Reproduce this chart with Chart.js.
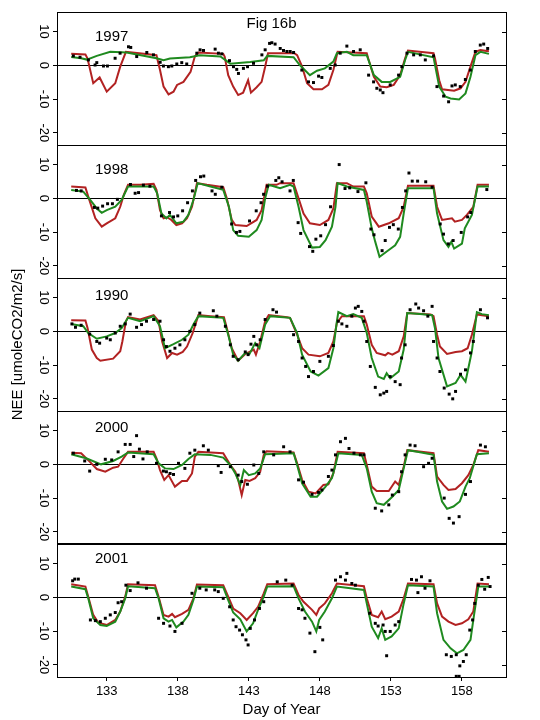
<!DOCTYPE html>
<html>
<head>
<meta charset="utf-8">
<script src="https://cdn.jsdelivr.net/npm/chart.js@4.4.0/dist/chart.umd.min.js"></script>
<style>
  html, body { margin: 0; padding: 0; background: #fff; }
  #wrap { width: 540px; height: 720px; position: relative; }
</style>
</head>
<body>
<div id="wrap"><canvas id="nee" width="540" height="720"></canvas></div>
<script>
// panel names, top to bottom
const YEARS = ['1997', '1998', '1990', '2000', '2001'];
const X_TICKS = [133, 138, 143, 148, 153, 158];
const Y_TICKS = [-20, -10, 0, 10];

// [day, NEE]
const red1997 = [[130.5,3.4],[131.5,3.2],[131.65,2],[132.05,-5.3],[132.5,-3.6],[133,-7.8],[133.6,-5.3],[133.95,-0.4],[134.35,4],[135.3,3.6],[136.5,3],[136.75,-1.4],[137,-6.3],[137.35,-8.6],[137.7,-7.8],[137.95,-5.8],[138.4,-4.9],[138.9,-1.9],[139.2,2.6],[139.45,3.8],[141.2,3.4],[141.3,2.6],[141.55,-2.9],[141.9,-6.3],[142.25,-8.8],[142.6,-8.1],[142.95,-4.4],[143.15,-8.1],[143.55,-6.5],[143.9,-4.9],[144.15,-0.4],[144.35,3.6],[146.2,3.6],[146.4,3],[146.75,-0.4],[147.1,-5.3],[147.55,-7.1],[148.15,-7.1],[148.6,-5.8],[148.95,-1.4],[149.25,4],[151.3,3.6],[151.4,2.1],[151.8,-3.4],[152.25,-6.3],[152.7,-6.5],[153.2,-5.8],[153.65,-2.9],[154,2.1],[154.2,4.4],[156,3.6],[156.1,2.1],[156.4,-4.4],[156.6,-7.1],[157.45,-7.5],[157.9,-6.8],[158.25,-4.9],[158.6,-0.4],[158.95,4],[159.3,4.5],[159.9,4.2]];
const green1997 = [[130.5,2.5],[131.2,2.1],[131.6,1.7],[132.3,2.8],[133.25,4],[134.4,3.8],[136.5,2.1],[137,1.5],[137.45,2],[138.85,2.4],[139.55,3],[141,2.6],[141.7,0.5],[143.1,1],[144.05,1.5],[144.3,2.8],[146.15,2.4],[146.6,0],[147.3,-2.9],[147.8,-1.6],[148.35,-0.9],[148.95,1.1],[149.2,3.6],[149.9,4],[150.35,3],[151.3,3],[151.8,-2.9],[152.35,-4.9],[152.95,-4.9],[153.65,-3.4],[154,1.6],[154.2,4],[156,2.4],[156.4,-6.3],[156.85,-9.3],[157.2,-9.8],[157.8,-10.1],[158.25,-8.3],[158.6,-3.4],[158.95,3],[159.3,4],[159.9,3.4]];
const obs1997 = [[130.65,2.8],[131.12,2.4],[131.71,1.6],[132.18,0.1],[132.3,0.8],[132.77,-0.2],[133.05,-0.2],[133.59,2.1],[133.94,3.6],[134.53,5.5],[134.69,5.3],[135.11,2.6],[135.82,3.8],[136.29,3.1],[136.76,0.9],[136.99,-0.2],[137.34,-0.4],[137.58,-0.2],[137.93,0.4],[138.28,0.8],[138.63,0.4],[139.34,3.6],[139.57,4.6],[139.81,4.4],[140.63,4.8],[140.86,3.6],[141.1,3.4],[141.64,1.4],[141.92,-0.4],[142.15,-1.2],[142.27,-2.4],[142.62,-0.9],[142.91,-0.4],[143.33,0.6],[143.92,3.1],[144.15,4.6],[144.46,6.5],[144.62,6.7],[144.85,6.3],[145.21,5],[145.44,4.4],[145.68,4.1],[145.91,4.1],[146.15,3.8],[146.73,-1.4],[147.2,-4.9],[147.55,-5.1],[147.91,-3.2],[148.14,-3.6],[148.73,-0.9],[149.08,0.1],[149.43,3.6],[149.9,5.7],[150.37,4.1],[150.84,4.6],[151.43,-2.9],[151.78,-4.9],[152.01,-6.8],[152.25,-7.3],[152.44,-8.1],[152.95,-5.8],[153.54,-2.9],[153.77,-0.4],[154.13,3.6],[154.6,3.1],[155.07,3.1],[155.42,1.6],[156,2.8],[156.24,-6.3],[156.71,-9.1],[157.06,-10.8],[157.3,-6.1],[157.53,-5.8],[157.88,-6.3],[158.24,-4.2],[158.59,-1.4],[158.94,4.1],[159.29,6],[159.53,6.3],[159.81,5]];

const red1998 = [[130.5,3.5],[131.5,3.2],[131.7,0.5],[132.2,-5.9],[132.65,-8.4],[133,-7.4],[133.6,-5.9],[133.95,-2.5],[134.2,1],[134.5,4],[135.35,4],[136.3,4.3],[136.5,2.5],[136.75,-3.5],[137,-5.9],[137.25,-5.6],[137.55,-6.4],[137.9,-7.9],[138.3,-7.4],[138.65,-5.9],[139,-2.5],[139.35,4.5],[140.05,4],[141.2,3.3],[141.45,0],[141.8,-6.4],[142.05,-7.9],[142.85,-8.2],[143.55,-6.4],[143.9,-3.5],[144.25,4],[144.95,4],[145.2,4.5],[146.15,4.5],[146.5,0],[146.85,-4.5],[147.3,-7.4],[148,-7.9],[148.6,-6.4],[148.95,-3],[149.2,4.5],[149.9,4.5],[150.35,3.5],[151.1,3.5],[151.3,1.5],[151.65,-5.4],[152.15,-8.4],[152.85,-7.4],[153.55,-5.9],[153.9,-2.5],[154.2,3.7],[156,3.7],[156.25,-2.5],[156.6,-6.4],[157.3,-5.9],[157.5,-6.9],[158,-6.4],[158.35,-4.9],[158.8,-2.5],[159.1,4],[159.9,4]];
const green1998 = [[130.5,2.5],[131.35,2],[131.85,-0.5],[132.3,-3],[132.65,-4.3],[133,-3.5],[133.6,-2.5],[134.05,-0.5],[134.5,3.5],[136.3,3.5],[136.55,1.5],[136.85,-4.5],[137.2,-5.9],[137.45,-4.9],[137.9,-7.4],[138.4,-6.9],[138.75,-4.9],[139.1,-0.5],[139.4,4.5],[140.3,3.5],[141.2,2.5],[141.6,-2.5],[141.9,-9.4],[142.25,-11.1],[143,-11.4],[143.55,-9.4],[143.9,-6.4],[144.15,0],[144.4,4],[145.2,3],[145.9,4],[146.15,3.5],[146.5,-2.5],[146.85,-9.4],[147.45,-14.6],[148,-14.4],[148.4,-12.4],[148.85,-8.4],[149.1,-2.5],[149.25,4.5],[149.9,3.5],[151.1,2.5],[151.3,-1],[151.65,-8.9],[151.9,-12.9],[152.2,-17.3],[152.85,-15.3],[153.3,-13.9],[153.65,-11.4],[153.9,-4.5],[154.2,3],[156,3],[156.25,-4.5],[156.7,-12.4],[157.05,-14.4],[157.25,-12.9],[157.45,-14.9],[158,-13.4],[158.2,-8.9],[158.7,-4.9],[159.1,3.5],[159.9,3.5]];
const obs1998 = [[130.87,2.35],[131.2,2.2],[132.13,-2.7],[132.37,-2.9],[132.71,-2.3],[133.06,-1.6],[133.4,-1.6],[133.75,-0.3],[134.67,4.1],[135,1.5],[135.24,1.7],[135.58,3.9],[136.04,3.6],[136.85,-5.2],[137.42,-4.2],[137.7,-5.5],[138,-5.2],[138.34,-3.7],[138.69,-1.3],[139.03,2.2],[139.26,5.3],[139.6,6.4],[139.83,6.6],[140.41,2.2],[140.64,1.2],[141.1,3.3],[141.79,-7.6],[142.13,-10.1],[142.37,-9.8],[143.05,-6.7],[143.52,-3.7],[143.86,-1.3],[144.04,1.2],[144.31,3.6],[144.9,5.3],[145.11,6.1],[145.34,4.9],[145.9,2.2],[146.13,5.3],[146.47,-7.2],[146.65,-10.4],[147.27,-14.3],[147.5,-15.7],[147.72,-12.1],[148.06,-11.1],[148.4,-7.8],[148.75,-2.5],[149.36,10],[149.77,2.9],[150.1,3.1],[150.68,2],[151.24,4.6],[151.59,-9.1],[151.81,-10.8],[152.38,-15.5],[152.6,-12.5],[152.9,-8.6],[153.17,-7.8],[153.52,-9.1],[153.81,-2.7],[154.04,2.2],[154.27,7.5],[154.5,5.1],[154.88,5.1],[155.45,4.9],[155.9,3.3],[156.47,-7.6],[156.7,-10.6],[157.04,-13.5],[157.38,-12.5],[157.95,-10.1],[158.4,-5.5],[158.62,-4.2],[159.75,2.6]];

const red1990 = [[130.5,3.3],[131.5,3.2],[131.65,1],[131.95,-5.4],[132.3,-7.9],[132.55,-8.7],[133.45,-8.1],[133.95,-5.9],[134.1,-3],[134.35,3],[134.5,4.2],[135.35,3.5],[136.3,4.8],[136.65,3],[136.9,-3],[137.25,-7.9],[137.6,-6.4],[137.95,-6.9],[138.35,-6.1],[138.65,-4.5],[139.05,-0.5],[139.45,4.8],[140.3,4.5],[141.25,4.2],[141.45,1],[141.8,-5],[142.25,-8.7],[142.75,-6.7],[143.05,-6.1],[143.35,-5.4],[143.5,-6.9],[143.8,-3],[144.15,3],[144.4,4.8],[145.7,4.2],[145.9,4],[146.4,-1],[146.75,-5],[147.2,-6.9],[148,-7.4],[148.6,-6.4],[148.95,-3],[149.2,2.5],[149.55,4.5],[151.1,4.5],[151.3,2],[151.65,-4],[152,-6.4],[152.6,-7.1],[152.8,-6.4],[153.1,-6.9],[153.55,-5.9],[153.9,-1.5],[154.15,5.4],[155.8,5],[156,4.5],[156.25,-1],[156.45,-4.5],[156.95,-6.7],[157.55,-6.1],[158,-5.9],[158.4,-5],[158.7,-1],[159.05,5],[159.9,4.5]];
const green1990 = [[130.5,2.2],[131.35,1.5],[131.7,-0.5],[132.3,-2.2],[133,-1.5],[133.6,-0.5],[134.05,1],[134.5,4],[135.35,3],[136.3,4.5],[136.75,1.5],[137.1,-5],[137.7,-3.8],[138.3,-2.5],[138.75,-1],[139.1,2],[139.45,4.5],[141.2,4],[141.55,-1],[141.9,-6.9],[142.25,-8.7],[142.75,-6.4],[143.05,-6.7],[143.45,-3.5],[143.75,-5],[144.15,2],[144.5,4.5],[145.9,4],[146.4,-0.5],[146.75,-6.9],[147.35,-11.9],[147.9,-13.1],[148.6,-10.9],[148.95,-5],[149.2,3],[149.3,5.7],[149.9,4.5],[150.35,5.1],[150.95,4],[151.3,-0.5],[151.65,-7.9],[152.1,-13.4],[152.5,-14.1],[152.7,-12.4],[152.95,-13.9],[153.55,-11.9],[153.9,-5.4],[154.15,5.4],[155.05,5.1],[155.9,4.8],[156.1,1],[156.35,-7.9],[156.95,-16.3],[157.55,-15.3],[157.9,-12.9],[158.25,-14.9],[158.7,-5.9],[159.05,5.7],[159.4,5.1],[159.9,4.8]];
const obs1990 = [[130.55,2.2],[130.8,1.2],[131.2,1.8],[131.8,-0.8],[132.3,-3],[132.5,-3.5],[133,-2],[133.25,-2.5],[133.6,-0.5],[133.95,1.5],[134.3,2.2],[134.65,5.1],[135.1,1.2],[135.45,2],[135.8,3],[136.3,3.5],[136.75,3],[137,-2.5],[137.2,-4.5],[137.45,-5.9],[137.8,-5],[138.15,-4],[138.5,-2.5],[138.85,0],[139.2,2],[139.55,5.4],[140.5,6.1],[140.75,4.5],[141.35,1.5],[141.7,-4],[141.9,-7.4],[142.25,-8.4],[142.75,-6.1],[142.95,-6.9],[143.15,-3.8],[143.35,-1.5],[143.55,-4],[143.8,-2.5],[144.15,3.5],[144.7,6.4],[144.95,5.7],[146.15,-1],[146.5,-3],[146.75,-7.9],[147,-10.4],[147.2,-13.4],[147.55,-11.9],[148,-8.9],[148.6,-7.4],[148.95,-4.2],[149.3,3],[149.55,2.2],[149.9,1.5],[150.25,4.5],[150.5,6.9],[150.7,7.4],[150.95,5.9],[151.1,3],[151.3,-3],[151.55,-10.4],[151.9,-16.6],[152.25,-18.8],[152.5,-18.3],[152.7,-17.8],[152.95,-13.4],[153.3,-14.9],[153.65,-15.8],[153.75,-7.9],[154,-4],[154.35,6.4],[154.75,8.1],[154.95,6.9],[155.3,6.1],[155.6,4.5],[155.9,7.4],[156,-3],[156.25,-7.9],[156.45,-11.9],[156.75,-16.8],[157.1,-18.6],[157.35,-20],[157.55,-17.8],[157.9,-12.7],[158.25,-11.4],[158.6,-6.4],[158.8,-3],[159.3,6.4],[159.8,4]];

const red2000 = [[130.5,3.4],[131.2,3.3],[131.8,0.8],[132.3,-1.4],[132.9,-2.2],[133.45,-1],[133.8,-0.7],[134.15,1.6],[134.5,3.7],[136.3,3.7],[136.5,1.8],[136.75,-1.7],[137.05,-4.6],[137.35,-3.2],[137.8,-6.6],[138.3,-4.9],[138.65,-4.9],[139,-2.7],[139.2,2.3],[139.45,3.7],[141.2,3.3],[141.7,-0.2],[142.05,-2.2],[142.25,-4.6],[142.5,-9.1],[142.75,-4.6],[143.05,-4.9],[143.45,-4.1],[143.8,-2.2],[144.05,2.8],[144.25,3.9],[146.15,3.5],[146.4,0.3],[146.75,-4.6],[147.2,-8.1],[147.7,-8.6],[148.25,-6.1],[148.6,-5.9],[148.95,-2.7],[149.25,3.7],[151.1,3.3],[151.3,-0.2],[151.65,-6.6],[152,-7.9],[152.85,-7.9],[153.3,-5.1],[153.55,-6.1],[153.9,-0.7],[154.15,4.2],[156,3.3],[156.25,-3.6],[156.7,-6.1],[157.05,-7.6],[157.55,-7.3],[158,-5.6],[158.45,-3.2],[158.8,-0.2],[159.15,4.2],[159.9,3.7]];
const green2000 = [[130.5,3],[131.55,1.8],[132.6,0],[133.45,1],[134.05,2.3],[134.5,3.5],[136.3,3],[136.65,0.3],[137.1,-1.2],[137.7,-1.4],[138.3,-0.2],[138.75,1.6],[139.2,3],[140.3,2.8],[141.2,2],[141.7,-0.2],[142.05,-2.7],[142.4,-6.1],[142.65,-1.7],[143,-3.2],[143.45,-2.7],[143.8,-1.2],[144.15,3],[146.15,3.3],[146.4,-0.2],[146.75,-5.6],[147.35,-9.6],[147.8,-9.6],[148.4,-6.6],[148.85,-4.1],[149.1,-0.2],[149.3,3.3],[150.95,2.8],[151.3,-1.2],[151.65,-8.1],[152,-11.5],[152.5,-12],[153.1,-9.6],[153.55,-7.6],[153.9,-1.2],[154.2,4.2],[154.85,3.7],[156,2.8],[156.25,-5.1],[156.6,-11],[156.95,-13.2],[157.4,-12.5],[157.85,-11],[158.25,-6.6],[158.55,-4.1],[159.05,3],[159.9,3.3]];
const obs2000 = [[130.65,3.3],[131.45,1],[131.8,-2],[132.3,0],[132.9,1.5],[133.35,1.3],[133.8,3.7],[134.3,5.9],[134.65,5.9],[134.9,2.3],[135.1,8.5],[135.3,4.5],[135.55,1.6],[135.85,3.7],[136.5,0.3],[136.99,-2],[137.2,-2.2],[137.46,-2.7],[137.7,-3],[138.05,0.3],[138.5,-1.2],[138.85,3.3],[139.2,4.2],[139.8,5.5],[140.15,4.2],[140.85,-0.4],[141.05,-2.4],[141.7,-0.7],[142.25,-3.2],[142.5,-5.1],[142.9,-5.9],[143.35,-0.2],[143.7,-2.7],[144.05,3.7],[144.75,2.8],[145.45,5.2],[145.9,3.7],[146.5,-4.6],[146.85,-5.3],[147.45,-8.9],[147.9,-8.3],[148.14,-7.6],[148.6,-3.6],[148.85,-1.7],[149.1,2.8],[149.45,6.7],[149.8,7.7],[150.05,4.7],[150.4,3.3],[150.85,2.8],[151.1,2.8],[151.9,-13],[152.35,-13.8],[152.85,-12],[153.1,-9.1],[153.55,-8.1],[153.75,-2.2],[154,2.8],[154.35,5.7],[154.7,5.5],[155.3,-0.7],[155.65,0.3],[155.9,1.8],[156.75,-10],[157.1,-16],[157.4,-17.4],[157.8,-15.5],[158.25,-8.9],[158.6,-5.1],[159.3,5.7],[159.65,5.2]];

const red2001 = [[130.5,3.9],[131.5,3.2],[131.7,0.2],[132.05,-5.2],[132.4,-7.5],[133,-8.2],[133.6,-6.7],[133.95,-4.2],[134.3,0.2],[134.5,3.9],[136.4,3.6],[136.65,0.2],[137,-5.2],[137.35,-5.7],[137.6,-4.9],[137.8,-5.9],[138.3,-4.9],[138.75,-3.7],[139.1,-0.3],[139.35,3.8],[141.2,3.6],[141.55,0.2],[141.9,-3.3],[142.4,-4.7],[142.85,-6.7],[143.3,-4.7],[143.65,-2.8],[144.05,1.2],[144.3,3.9],[146.15,4.1],[146.5,0.7],[146.85,-1.3],[147.45,-3.7],[147.75,-5.2],[147.95,-3.3],[148.35,-1.8],[148.85,1.2],[149.2,4.1],[151.1,3.3],[151.3,-0.3],[151.65,-5.2],[152.1,-5.9],[152.35,-4.2],[152.6,-6.5],[153.05,-5.7],[153.55,-4.2],[153.9,-0.3],[154.2,4.1],[156,3.9],[156.25,-1.8],[156.6,-5.7],[157.05,-7.2],[157.55,-8.2],[158,-7.7],[158.45,-6.5],[158.8,-4.2],[159.1,4.1],[159.9,3.9]];
const green2001 = [[130.5,3.2],[131.5,2.4],[131.7,-0.3],[132.05,-6.2],[132.55,-8.2],[133,-8.5],[133.6,-7.2],[133.95,-4.2],[134.3,-0.3],[134.5,3.3],[136.4,2.7],[136.65,-0.3],[137,-6.2],[137.35,-7.2],[137.6,-6.7],[137.9,-8.9],[138.4,-7.2],[138.75,-5.2],[139.1,-0.8],[139.35,3.2],[141.2,3],[141.55,-0.8],[141.9,-4.5],[142.4,-6.5],[142.85,-10.1],[143.3,-7.7],[143.65,-3.7],[144.05,0.2],[144.3,3.2],[146.15,3.3],[146.5,-0.3],[146.95,-4.2],[147.45,-7.2],[147.75,-10.1],[147.95,-6.7],[148.35,-4.2],[148.85,-0.3],[149.2,3.2],[151.1,2.2],[151.3,-1.8],[151.65,-8.7],[152.1,-12.1],[152.35,-9.2],[152.6,-12.6],[153.05,-11.6],[153.55,-9.2],[153.9,-1.8],[154.2,3.6],[156,3.2],[156.25,-4.7],[156.7,-12.6],[157.2,-15.1],[157.65,-16.6],[158.1,-15.6],[158.6,-12.6],[158.8,-6.7],[159.15,3.2],[159.9,3.2]];
const obs2001 = [[130.6,4.9],[130.75,5.4],[131,5.4],[131.85,-6.7],[132.2,-6.9],[132.55,-7.2],[132.9,-6.2],[133.25,-5.2],[133.6,-4.5],[133.8,-1.6],[134.05,-1.3],[134.35,3.6],[134.65,2],[135.2,4.3],[135.8,2.7],[136.65,-6.2],[137,-7.7],[137.45,-8.5],[137.8,-10.1],[138.3,-7.7],[139,1.2],[139.55,2.7],[140,2.2],[140.6,2.2],[140.85,1.7],[141.2,-0.3],[141.65,-2.8],[141.9,-6.7],[142.1,-8.7],[142.35,-9.7],[142.55,-11.1],[142.8,-12.6],[142.95,-14.1],[143.1,-9.2],[143.4,-6.7],[143.75,-3.3],[144.05,-1.3],[145,4.6],[145.6,5.1],[146.05,3.6],[146.5,-3.3],[146.75,-3.7],[146.95,-6.2],[147.3,-10.6],[147.65,-16.1],[148,-8.9],[148.2,-12.6],[149.1,5.1],[149.45,6.1],[149.8,5.1],[149.9,7.1],[150.25,4.1],[150.5,3.6],[151.5,-4.7],[151.9,-7.7],[152.1,-8.5],[152.45,-8.2],[152.6,-10.1],[152.7,-17.3],[152.95,-10.1],[153.3,-8.2],[153.55,-7.2],[154.45,5.3],[154.8,5.1],[154.9,1.4],[155.15,6.1],[155.4,2.7],[155.75,4.9],[156.9,-17],[157.25,-17.5],[157.6,-17],[157.85,-20.3],[158.1,-19],[158.3,-17],[158.55,-9.7],[158.75,-6.7],[158.9,-1.8],[159.15,3.6],[159.4,5.3],[159.6,2.4],[159.85,5.9],[159.98,3.2],[157.6,-23.4],[157.8,-23.4]];

const REDS = [red1997, red1998, red1990, red2000, red2001];
const GREENS = [green1997, green1998, green1990, green2000, green2001];
const OBS = [obs1997, obs1998, obs1990, obs2000, obs2001];

const FONT = '"Liberation Sans", Arial, sans-serif';
const RED = '#b22222';
const GREEN = '#1f8a1f';
// distance of the year label below each panel top
const LABEL_DY = [25, 25, 17.5, 16.5, 14.5];

const toXY = arr => arr.map(p => ({ x: p[0], y: p[1] }));

const datasets = [];
YEARS.forEach((yr, i) => {
    const yID = 'y' + i;
    datasets.push({ label: 'obs ' + yr, data: toXY(OBS[i]), yAxisID: yID, order: 0,
        showLine: false, pointStyle: 'rect', pointRadius: 2.1, pointBackgroundColor: '#000', pointBorderWidth: 0 });
    datasets.push({ label: 'green ' + yr, data: toXY(GREENS[i]), yAxisID: yID, order: 1,
        borderColor: GREEN, borderWidth: 2, pointRadius: 0, tension: 0, fill: false });
    datasets.push({ label: 'red ' + yr, data: toXY(REDS[i]), yAxisID: yID, order: 2,
        borderColor: RED, borderWidth: 2, pointRadius: 0, tension: 0, fill: false });
});

const scales = {
    x: {
        type: 'linear', position: 'bottom', min: 129.5, max: 161.1,
        afterBuildTicks: s => { s.ticks = X_TICKS.map(v => ({ value: v })); },
        afterFit: s => { s.height = 43; },
        grid: { drawOnChartArea: false, color: '#000', tickLength: 4 },
        border: { display: false },
        ticks: { font: { family: FONT, size: 13 }, color: '#000', padding: 3, maxRotation: 0 },
        title: { display: true, text: 'Day of Year', color: '#000', font: { family: FONT, size: 15 }, padding: { top: 1, bottom: 1 } }
    }
};
YEARS.forEach((yr, i) => {
    scales['y' + i] = {
        type: 'linear', position: 'left', stack: 'panels', stackWeight: 1, weight: 5 - i,
        min: -23.6, max: 15.8,
        afterBuildTicks: s => { s.ticks = Y_TICKS.map(v => ({ value: v })); },
        afterFit: s => { s.width = 57; },
        grid: { drawOnChartArea: false, color: '#000', tickLength: 4 },
        border: { display: false },
        ticks: { font: { family: FONT, size: 13 }, color: '#000', padding: 0, minRotation: -90, crossAlign: 'center' }
    };
});

// frames, zero lines, right ticks and labels
const panelDecor = {
    id: 'panelDecor',
    beforeDatasetsDraw(chart) {
        const ctx = chart.ctx;
        const { left, right } = chart.chartArea;
        ctx.save();
        ctx.strokeStyle = '#000';
        ctx.lineWidth = 1;
        YEARS.forEach((yr, i) => {
            const y0 = Math.round(chart.scales['y' + i].getPixelForValue(0)) + 0.5;
            ctx.beginPath();
            ctx.moveTo(left, y0);
            ctx.lineTo(right, y0);
            ctx.stroke();
        });
        ctx.restore();
    },
    afterDraw(chart) {
        const ctx = chart.ctx;
        const { left, right, top, bottom } = chart.chartArea;
        ctx.save();
        ctx.strokeStyle = '#000';
        ctx.fillStyle = '#000';
        ctx.lineWidth = 1;
        YEARS.forEach((yr, i) => {
            const s = chart.scales['y' + i];
            ctx.strokeRect(Math.round(left) + 0.5, Math.round(s.top) + 0.5, Math.round(right - left), Math.round(s.bottom - s.top));
            Y_TICKS.forEach(v => {
                const y = Math.round(s.getPixelForValue(v)) + 0.5;
                ctx.beginPath();
                ctx.moveTo(right - 4, y);
                ctx.lineTo(right, y);
                ctx.stroke();
            });
            ctx.font = '15px ' + FONT;
            ctx.textAlign = 'left';
            ctx.textBaseline = 'middle';
            ctx.fillText(yr, 95, s.top + LABEL_DY[i]);
        });
        // heavier rule above the last panel
        const s4 = chart.scales.y4;
        ctx.lineWidth = 2;
        ctx.beginPath();
        ctx.moveTo(left, Math.round(s4.top));
        ctx.lineTo(right, Math.round(s4.top));
        ctx.stroke();

        ctx.font = '15px ' + FONT;
        ctx.textAlign = 'center';
        ctx.textBaseline = 'middle';
        ctx.fillText('Fig 16b', 271.5, 23.5);

        ctx.translate(18, (top + bottom) / 2);
        ctx.rotate(-Math.PI / 2);
        ctx.fillText('NEE [umoleCO2/m2/s]', 0, 0);
        ctx.restore();
    }
};

new Chart(document.getElementById('nee'), {
    type: 'line',
    data: { datasets: datasets },
    options: {
        responsive: false,
        animation: false,
        events: [],
        layout: { padding: { top: 12, right: 34, bottom: 0, left: 0 } },
        plugins: { legend: { display: false }, tooltip: { enabled: false } },
        scales: scales
    },
    plugins: [panelDecor]
});
</script>
</body>
</html>
